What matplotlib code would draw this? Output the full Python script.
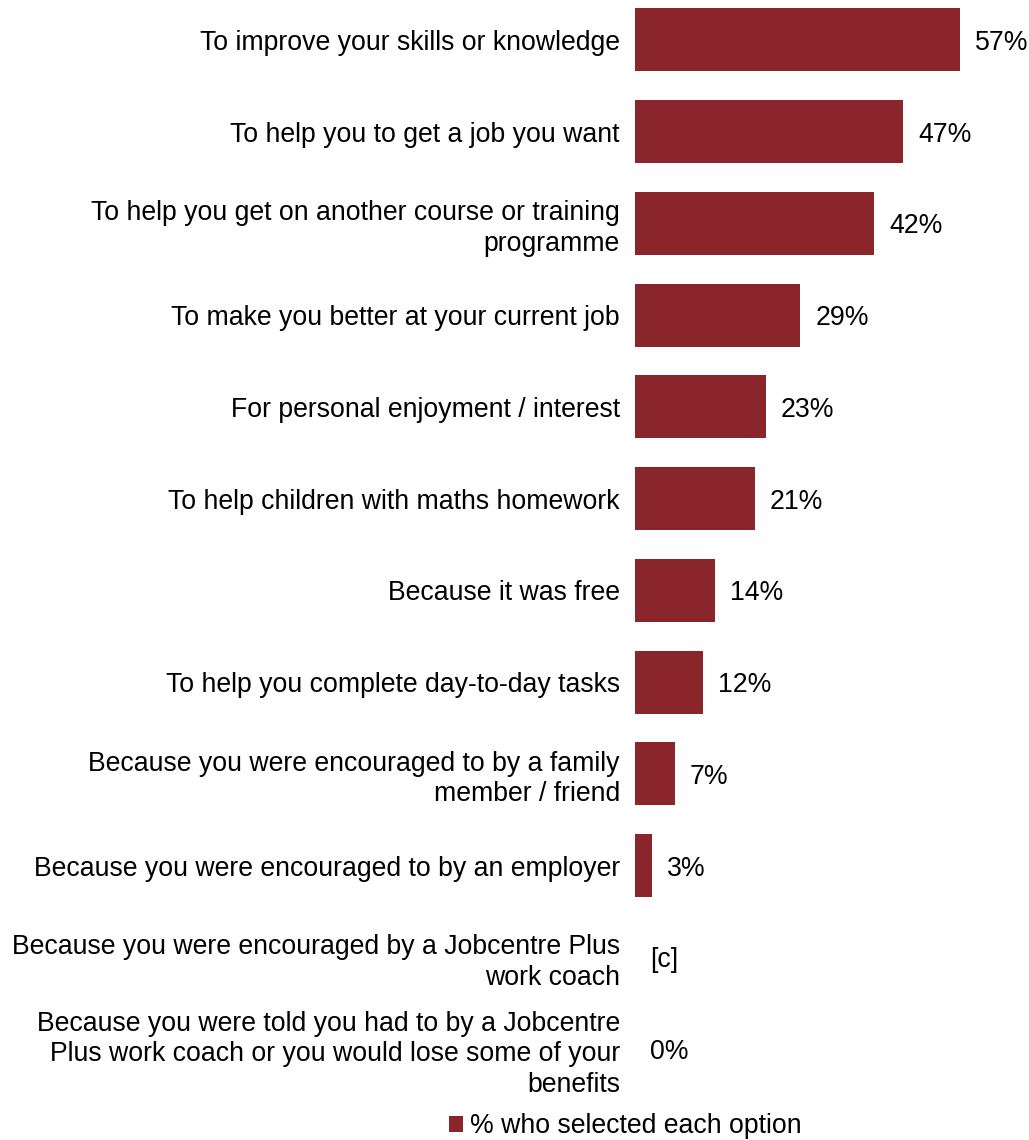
import matplotlib
matplotlib.use("Agg")
import matplotlib.pyplot as plt
from matplotlib.patches import Patch

plt.rcParams['font.family'] = ['Liberation Sans', 'DejaVu Sans']

categories = [
    "To improve your skills or knowledge",
    "To help you to get a job you want",
    "To help you get on another course or training\nprogramme",
    "To make you better at your current job",
    "For personal enjoyment / interest",
    "To help children with maths homework",
    "Because it was free",
    "To help you complete day-to-day tasks",
    "Because you were encouraged to by a family\nmember / friend",
    "Because you were encouraged to by an employer",
    "Because you were encouraged by a Jobcentre Plus\nwork coach",
    "Because you were told you had to by a Jobcentre\nPlus work coach or you would lose some of your\nbenefits",
]
values = [57, 47, 42, 29, 23, 21, 14, 12, 7, 3, None, 0]
value_labels = ["57%", "47%", "42%", "29%", "23%", "21%", "14%", "12%", "7%", "3%", "[c]", "0%"]
series_name = "% who selected each option"

color = "#8B252C"
FS = 19.2
W, H = 1029, 1140
fig = plt.figure(figsize=(W / 100, H / 100), dpi=100)
ax_left = 635 / W
ax_top = 1.0
ax_bottom = 1 - 1096 / H
ax = fig.add_axes([ax_left, ax_bottom, 1 - ax_left, ax_top - ax_bottom])

ypos = list(range(len(categories)))
bar_vals = [v if v is not None else 0 for v in values]
ax.barh(ypos, bar_vals, height=0.685, color=color)
ax.set_xlim(0, (W - 635) / 5.7)
ax.set_ylim(11 + 47 / 92, -40 / 92)

for spine in ax.spines.values():
    spine.set_visible(False)
ax.set_xticks([])
ax.set_yticks(ypos)
ax.set_yticklabels(categories, fontsize=FS, linespacing=1.23)
ax.tick_params(axis='y', length=0, pad=10.8)

for y, v, lab in zip(ypos, bar_vals, value_labels):
    ax.annotate(lab, (v, y), xytext=(10.8, 0), textcoords='offset points',
                va='center_baseline', ha='left', fontsize=FS)

fig.legend(handles=[Patch(facecolor=color, label=series_name)],
           loc='center', bbox_to_anchor=(625 / W, 1 - 1126 / H),
           frameon=False, fontsize=FS, handlelength=0.55, handleheight=0.55,
           handletextpad=0.25, borderpad=0, borderaxespad=0)

fig.savefig("out.png", dpi=100)
